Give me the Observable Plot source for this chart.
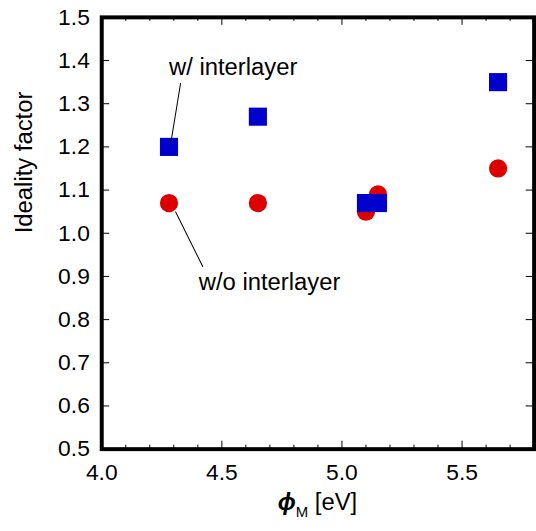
<!DOCTYPE html>
<html><head><meta charset="utf-8">
<script src="https://cdn.jsdelivr.net/npm/d3@7"></script>
<script src="https://cdn.jsdelivr.net/npm/@observablehq/plot@0.6"></script>
<style>
html,body{margin:0;padding:0;background:#fff;overflow:hidden;}
#chart{width:536px;height:531px;overflow:hidden;}
</style></head><body><div id="chart"></div>
<script>
// ---- data ----
const phiM = [4.28, 4.65, 5.10, 5.15, 5.65];
const withInterlayer = [1.20, 1.27, 1.07, 1.07, 1.35];
const withoutInterlayer = [1.07, 1.07, 1.05, 1.09, 1.15];
const xMajorTicks = [4.0, 4.5, 5.0, 5.5];
const xMinorTicks = [4.1, 4.2, 4.3, 4.4, 4.6, 4.7, 4.8, 4.9, 5.1, 5.2, 5.3, 5.4, 5.6, 5.7];
const yTicks = [0.5, 0.6, 0.7, 0.8, 0.9, 1.0, 1.1, 1.2, 1.3, 1.4, 1.5];
const labelWith = "w/ interlayer";
const labelWithout = "w/o interlayer";
const yLabel = "Ideality factor";
const xLabelSymbol = "\u03D5";
const xLabelSub = "M";
const xLabelUnit = "[eV]";

const rows = phiM.map((p, i) => ({phi: p, nWith: withInterlayer[i], nWithout: withoutInterlayer[i]}));

const W = 540, H = 531, mL = 102, mR = 2.4, mT = 17, mB = 79;
const fw = W - mL - mR, fh = H - mT - mB;
const font = "'Liberation Sans', Arial, Helvetica, sans-serif";

const plot = Plot.plot({
  width: W, height: H,
  marginLeft: mL, marginRight: mR, marginTop: mT, marginBottom: mB,
  style: {fontFamily: font, background: "#fff", color: "#000", overflow: "visible"},
  x: {domain: [4.0, 5.8]},
  y: {domain: [0.5, 1.5]},
  marks: [
    Plot.tickX(xMajorTicks, {x: d => d, insetTop: fh - 8, stroke: "#000", strokeWidth: 1}),
    Plot.tickX(xMajorTicks, {x: d => d, insetBottom: fh - 8, stroke: "#000", strokeWidth: 1}),
    Plot.tickX(xMinorTicks, {x: d => d, insetTop: fh - 4, stroke: "#000", strokeWidth: 1}),
    Plot.tickX(xMinorTicks, {x: d => d, insetBottom: fh - 4, stroke: "#000", strokeWidth: 1}),
    Plot.tickY(yTicks, {y: d => d, insetRight: fw - 8, stroke: "#000", strokeWidth: 1}),
    Plot.tickY(yTicks, {y: d => d, insetLeft: fw - 8, stroke: "#000", strokeWidth: 1}),
    Plot.frame({stroke: "#000", strokeWidth: 4}),
    Plot.axisX({ticks: xMajorTicks, tickSize: 0, tickPadding: 15, tickFormat: d => d.toFixed(1), fontSize: 23, label: null}),
    Plot.axisY({ticks: yTicks, tickSize: 0, tickPadding: 12, tickFormat: d => d.toFixed(1), fontSize: 23, label: null}),
    Plot.dot(rows, {x: "phi", y: "nWithout", symbol: "circle", r: 9.2, fill: "#dd0000"}),
    Plot.dot(rows, {x: "phi", y: "nWith", symbol: "square", r: 10.3, fill: "#0000cc"}),
    Plot.vector([rows[0]], {x: "phi", y: "nWith", anchor: "start", length: 59.8, rotate: 9.3, dx: 2, dy: -5, r: 0, stroke: "#000", strokeWidth: 1}),
    Plot.vector([rows[0]], {x: "phi", y: "nWithout", anchor: "start", length: 61.4, rotate: 153.6, dx: 6.7, dy: 9, r: 0, stroke: "#000", strokeWidth: 1}),
    Plot.text([rows[0]], {x: "phi", y: "nWith", text: () => labelWith, textAnchor: "start", dx: 0, dy: -80, fontSize: 24, fill: "#000"}),
    Plot.text([rows[0]], {x: "phi", y: "nWithout", text: () => labelWithout, textAnchor: "start", dx: 30, dy: 80, fontSize: 24, fill: "#000"}),
    Plot.text([yLabel], {text: d => d, frameAnchor: "left", rotate: -90, dx: -78, fontSize: 24, fill: "#000"})
  ]
});

// x-axis label with bold-italic symbol and subscript
const svg = d3.select(plot);
const t = svg.append("text")
  .attr("x", mL + fw / 2)
  .attr("y", 514)
  .attr("text-anchor", "middle")
  .attr("font-size", 24)
  .attr("fill", "#000");
t.append("tspan").attr("font-weight", "bold").attr("font-style", "italic").text(xLabelSymbol);
t.append("tspan").attr("font-size", 15).attr("dy", 7).text(xLabelSub);
t.append("tspan").attr("dy", -7).text(" " + xLabelUnit);

document.getElementById("chart").appendChild(plot);
</script></body></html>
